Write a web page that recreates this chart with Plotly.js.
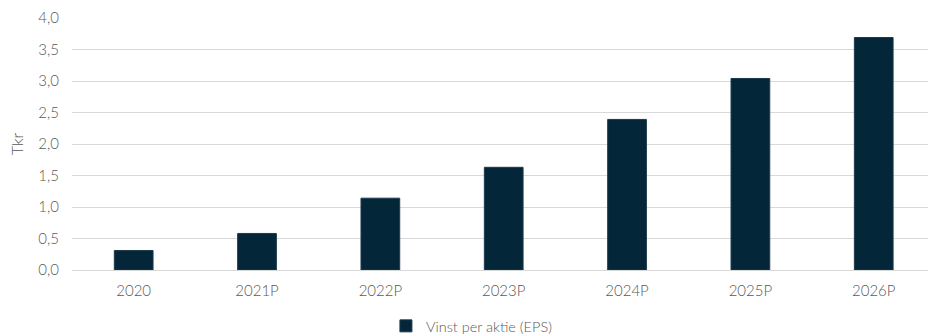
<!DOCTYPE html>
<html>
<head>
<meta charset="utf-8">
<script src="https://cdn.plot.ly/plotly-3.0.1.min.js"></script>
<style>html,body{margin:0;padding:0;background:#fff}#chart{width:928px;height:336px}</style>
</head>
<body>
<div id="chart"></div>
<script>
const categories = ["2020", "2021P", "2022P", "2023P", "2024P", "2025P", "2026P"];
const eps = [0.31, 0.58, 1.14, 1.63, 2.39, 3.04, 3.69];
const yTickVals = [0, 0.5, 1, 1.5, 2, 2.5, 3, 3.5, 4];
const yTickText = ["0,0", "0,5", "1,0", "1,5", "2,0", "2,5", "3,0", "3,5", "4,0"];
const seriesName = "Vinst per aktie (EPS)";
const yTitle = "Tkr";

const font = {family: "Lato, 'Open Sans', sans-serif", size: 15, color: "#595959", weight: 300};

Plotly.newPlot("chart", [{
  type: "bar",
  x: categories,
  y: eps,
  name: seriesName,
  marker: {color: "#032638", line: {color: "#1d3a4d", width: 1}},
  showlegend: true
}], {
  width: 928, height: 336,
  margin: {l: 72, r: 0, t: 18, b: 66},
  paper_bgcolor: "#ffffff",
  plot_bgcolor: "#ffffff",
  font: font,
  bargap: 0.686,
  xaxis: {
    type: "category",
    range: [-0.5, 6.44],
    showgrid: false,
    zeroline: false,
    showline: false,
    ticks: "",
    ticklabelstandoff: 10,
    tickfont: font
  },
  yaxis: {
    range: [0, 4],
    tickvals: yTickVals,
    ticktext: yTickText,
    showgrid: true,
    gridcolor: "#d9d9d9",
    gridwidth: 1,
    zeroline: true,
    zerolinecolor: "#d9d9d9",
    zerolinewidth: 1,
    showline: false,
    ticks: "",
    ticklabelstandoff: 12,
    tickfont: font,
    title: {text: yTitle, font: {family: font.family, size: 16, color: "#595959", weight: 300}, standoff: 10}
  },
  legend: {
    orientation: "h",
    xref: "container", yref: "container",
    x: 0.508, xanchor: "center",
    y: 0.03, yanchor: "middle",
    font: {family: font.family, size: 14.5, color: "#595959", weight: 300},
    itemwidth: 30
  }
}, {displayModeBar: false, staticPlot: true});
</script>
</body>
</html>
